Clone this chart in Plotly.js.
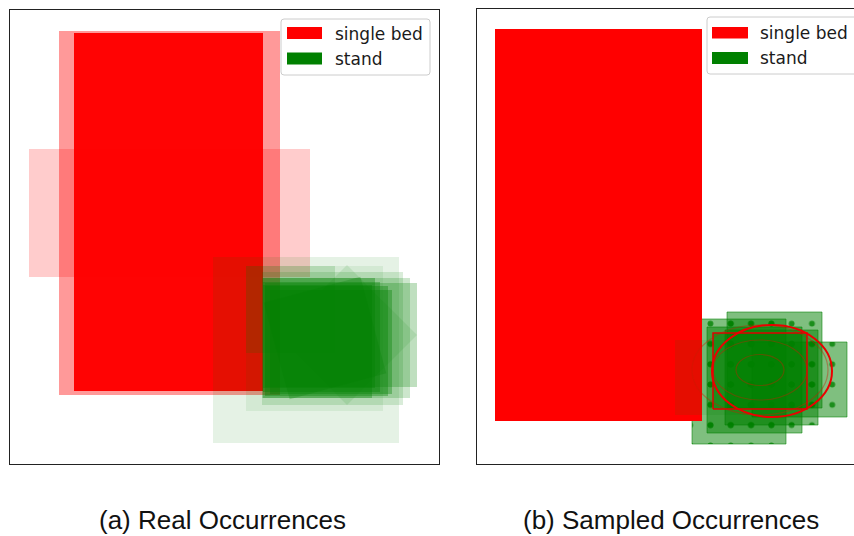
<!DOCTYPE html>
<html>
<head>
<meta charset="utf-8">
<script src="https://cdn.plot.ly/plotly-3.0.1.min.js"></script>
<style>html,body{margin:0;padding:0;background:#fff;}#chart{width:854px;height:536px;}</style>
</head>
<body>
<div id="chart"></div>
<script>
// ---------------- data ----------------
const categories = ['single bed', 'stand'];
const panelTitles = ['(a) Real Occurrences', '(b) Sampled Occurrences'];

// (a) real occurrences: centre x, centre y, width, depth (room units), rotation (deg), occurrence weight
const realBedX = [1.595, 1.595, 1.585];
const realBedY = [2.51, 2.51, 2.52];
const realBedW = [2.81, 2.21, 1.89];
const realBedH = [1.28, 3.64, 3.58];
const realBedRot = [0, 0, 0];
const realBedWeight = [0.2, 0.4, 0.98];

const realStandX = [2.96, 3.045, 2.805, 3.37, 3.31, 3.26, 3.225, 3.115, 3.165, 3.09, 3.21, 3.075, 3.15];
const realStandY = [1.14, 1.255, 1.545, 1.29, 1.29, 1.26, 1.255, 1.27, 1.23, 1.31, 1.22, 1.225, 1.26];
const realStandW = [1.86, 1.37, 0.89, 0.99, 1.52, 1.48, 1.41, 1.17, 1.23, 1.12, 1.22, 1.09, 1.00];
const realStandH = [1.86, 1.45, 0.87, 0.99, 1.04, 1.20, 1.33, 1.10, 1.10, 1.10, 1.04, 1.13, 1.00];
const realStandRot = [0, 0, 0, 45, 0, 0, 0, 0, 0, 0, 0, 0, 15];
const realStandWeight = [0.1, 0.08, 0.15, 0.1, 0.25, 0.2, 0.15, 0.35, 0.35, 0.35, 0.35, 0.35, 0.25];

// (b) sampled occurrences
const sampledBedX = [1.215];
const sampledBedY = [2.39];
const sampledBedW = [2.07];
const sampledBedH = [3.92];

const sampledStandX = [2.62, 2.775, 2.945, 2.975, 3.225];
const sampledStandY = [0.825, 0.84, 0.865, 1.04, 0.845];
const sampledStandW = [0.94, 0.95, 0.93, 0.95, 0.95];
const sampledStandH = [1.25, 1.06, 0.95, 0.96, 0.75];

const faintStandX = [2.455], faintStandY = [0.865], faintStandW = [0.95], faintStandH = [0.75];
const meanStandX = [2.83], meanStandY = [0.93], meanStandW = [0.94], meanStandH = [0.76];

// density contours of the sampled stand position
const contourX = [2.83, 2.83, 2.83];
const contourY = [0.94, 0.94, 0.94];
const contourRx = [0.24, 0.47, 0.68];
const contourRy = [0.155, 0.30, 0.45];
// fitted distribution ellipse
const fitX = [2.95], fitY = [0.93], fitRx = [0.60], fitRy = [0.46];

// ---------------- helpers ----------------
const W = 854, H = 536;
const px = v => v / W;
const py = v => 1 - v / H;

function rectPoly(cx, cy, w, h, rot) {
  const t = rot * Math.PI / 180, c = Math.cos(t), s = Math.sin(t);
  const pts = [[-w/2,-h/2],[w/2,-h/2],[w/2,h/2],[-w/2,h/2],[-w/2,-h/2]];
  return { x: pts.map(p => cx + p[0]*c - p[1]*s), y: pts.map(p => cy + p[0]*s + p[1]*c) };
}

function box(cx, cy, w, h, rot, ax, opts) {
  const p = rectPoly(cx, cy, w, h, rot);
  return Object.assign({
    type: 'scatter', x: p.x, y: p.y, fill: 'toself', mode: 'none',
    xaxis: ax[0], yaxis: ax[1], hoverinfo: 'skip', showlegend: false
  }, opts);
}

const traces = [];
// panel (a)
realBedX.forEach((_, i) => traces.push(box(realBedX[i], realBedY[i], realBedW[i], realBedH[i], realBedRot[i], ['x','y'],
  { fillcolor: `rgba(255,0,0,${realBedWeight[i]})`, name: categories[0] })));
realStandX.forEach((_, i) => traces.push(box(realStandX[i], realStandY[i], realStandW[i], realStandH[i], realStandRot[i], ['x','y'],
  { fillcolor: `rgba(0,128,0,${realStandWeight[i]})`, name: categories[1] })));

// panel (b)
const hatch = { shape: '.', size: 20.3, solidity: 0.065, fgcolor: 'rgb(0,128,0)', fgopacity: 0.78,
                bgcolor: 'rgba(0,128,0,0.5)', fillmode: 'replace' };
sampledStandX.forEach((_, i) => traces.push(box(sampledStandX[i], sampledStandY[i], sampledStandW[i], sampledStandH[i], 0, ['x2','y2'],
  { mode: 'lines', fillcolor: 'rgba(0,128,0,0.5)', fillpattern: hatch,
    line: { color: 'rgba(0,128,0,0.55)', width: 1 }, name: categories[1] })));
sampledBedX.forEach((_, i) => traces.push(box(sampledBedX[i], sampledBedY[i], sampledBedW[i], sampledBedH[i], 0, ['x2','y2'],
  { fillcolor: 'rgb(255,0,0)', name: categories[0] })));
faintStandX.forEach((_, i) => traces.push(box(faintStandX[i], faintStandY[i], faintStandW[i], faintStandH[i], 0, ['x2','y2'],
  { fillcolor: 'rgba(0,128,0,0.1)', name: categories[1] })));
meanStandX.forEach((_, i) => traces.push(box(meanStandX[i], meanStandY[i], meanStandW[i], meanStandH[i], 0, ['x2','y2'],
  { mode: 'lines', fillcolor: 'rgba(0,128,0,0.5)', line: { color: 'rgb(225,0,0)', width: 1.5 }, name: categories[1] })));

// ---------------- shapes ----------------
const shapes = [];
contourX.forEach((_, i) => shapes.push({
  type: 'circle', xref: 'x2', yref: 'y2', layer: 'above',
  x0: contourX[i] - contourRx[i], x1: contourX[i] + contourRx[i],
  y0: contourY[i] - contourRy[i], y1: contourY[i] + contourRy[i],
  line: { color: 'rgba(200,30,0,0.4)', width: 1.2 }, fillcolor: 'rgba(0,0,0,0)'
}));
fitX.forEach((_, i) => shapes.push({
  type: 'circle', xref: 'x2', yref: 'y2', layer: 'above',
  x0: fitX[i] - fitRx[i], x1: fitX[i] + fitRx[i], y0: fitY[i] - fitRy[i], y1: fitY[i] + fitRy[i],
  line: { color: 'rgb(235,0,0)', width: 2 }, fillcolor: 'rgba(0,0,0,0)'
}));

// manual matplotlib-style legends
function roundRect(x0, y0, x1, y1, r) {
  const X0 = px(x0), X1 = px(x1), T = py(y0), B = py(y1), rx = px(r), ry = r / H;
  return `M${X0+rx},${T} L${X1-rx},${T} Q${X1},${T} ${X1},${T-ry} L${X1},${B+ry} Q${X1},${B} ${X1-rx},${B} ` +
         `L${X0+rx},${B} Q${X0},${B} ${X0},${B+ry} L${X0},${T-ry} Q${X0},${T} ${X0+rx},${T} Z`;
}
const legendBoxes = [
  { box: [281, 19, 430, 75], patchX: [287, 322], patchY: [[27, 39], [52.5, 64.5]], textX: 333, textY: [34, 59.5] },
  { box: [707, 17, 862, 74], patchX: [712, 748], patchY: [[27, 38.5], [52, 64]], textX: 758, textY: [33, 58.5] }
];
const legendColors = ['rgb(255,0,0)', 'rgb(0,128,0)'];
const annotations = [];
legendBoxes.forEach(L => {
  shapes.push({ type: 'path', xref: 'paper', yref: 'paper', layer: 'above',
    path: roundRect(L.box[0], L.box[1], L.box[2], L.box[3], 3),
    fillcolor: 'rgba(255,255,255,0.8)', line: { color: '#cccccc', width: 1 } });
  categories.forEach((c, k) => {
    shapes.push({ type: 'rect', xref: 'paper', yref: 'paper', layer: 'above',
      x0: px(L.patchX[0]), x1: px(L.patchX[1]), y0: py(L.patchY[k][1]), y1: py(L.patchY[k][0]),
      fillcolor: legendColors[k], line: { width: 0 } });
    annotations.push({ text: c, xref: 'paper', yref: 'paper', x: px(L.textX), y: py(L.textY[k]),
      xanchor: 'left', yanchor: 'middle', showarrow: false,
      font: { family: 'DejaVu Sans, sans-serif', size: 17, color: '#1a1a1a' } });
  });
});
// panel captions
[222, 671].forEach((cx, i) => annotations.push({
  text: panelTitles[i], xref: 'paper', yref: 'paper', x: px(cx), y: py(520),
  xanchor: 'center', yanchor: 'middle', showarrow: false,
  font: { family: 'Liberation Sans, Arial, Helvetica, sans-serif', size: 26, color: '#111' }
}));

const axBase = { showticklabels: false, ticks: '', showgrid: false, zeroline: false,
  showline: true, linecolor: '#222', linewidth: 1, fixedrange: true };

const layout = {
  width: W, height: H, margin: { l: 0, r: 0, t: 0, b: 0 },
  paper_bgcolor: '#ffffff', plot_bgcolor: '#ffffff', showlegend: false,
  xaxis: Object.assign({}, axBase, { domain: [px(10), px(439)], range: [0, 4.29], mirror: true, anchor: 'y' }),
  yaxis: Object.assign({}, axBase, { domain: [72 / H, 526 / H], range: [0, 4.54], mirror: true, anchor: 'x' }),
  xaxis2: Object.assign({}, axBase, { domain: [px(477), 1], range: [0, 3.77], mirror: true, anchor: 'y2' }),
  yaxis2: Object.assign({}, axBase, { domain: [72 / H, 527 / H], range: [0, 4.55], mirror: false, anchor: 'x2' }),
  shapes: shapes, annotations: annotations
};

Plotly.newPlot('chart', traces, layout, { staticPlot: true, displayModeBar: false });
</script>
</body>
</html>
